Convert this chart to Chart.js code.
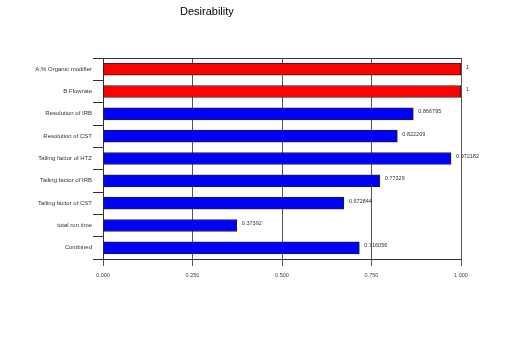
<!DOCTYPE html>
<html>
<head>
<meta charset="utf-8">
<script src="https://cdn.jsdelivr.net/npm/chart.js@4/dist/chart.umd.min.js"></script>
<style>
  html, body { margin: 0; padding: 0; background: #fff; }
  #wrap { width: 512px; height: 352px; position: relative; }
</style>
</head>
<body>
<div id="wrap"><canvas id="chart" width="512" height="352"></canvas></div>
<script>
// Desirability values per response
const categories = [
  "A:% Organic modifier",
  "B:Flowrate",
  "Resolution of IRB",
  "Resolution of CST",
  "Tailing factor of HTZ",
  "Tailing factor of IRB",
  "Tailing factor of CST",
  "total run time",
  "Combined"
]
const values = [1, 1, 0.866795, 0.822209, 0.972182, 0.77329, 0.672844, 0.37392, 0.716056]
const valueLabels = ["1", "1", "0.866795", "0.822209", "0.972182", "0.77329", "0.672844", "0.37392", "0.716056"]
const xTicks = [0, 0.25, 0.5, 0.75, 1]

const barColors = values.map((v, i) => (i < 2 ? "#ff0000" : "#0000ff"))
const font = "'Liberation Sans Narrow', 'Liberation Sans', Arial, sans-serif"

// title, frame and value labels
const extras = {
  id: "extras",
  afterDraw(chart) {
    const ctx = chart.ctx
    const area = chart.chartArea
    ctx.save()
    ctx.strokeStyle = "#333"
    ctx.lineWidth = 1
    ctx.beginPath()
    ctx.moveTo(area.left, area.top + 0.5)
    ctx.lineTo(area.right, area.top + 0.5)
    ctx.stroke()

    ctx.fillStyle = "#000"
    ctx.font = "11px " + font
    ctx.textAlign = "left"
    ctx.textBaseline = "middle"
    ctx.fillText("Desirability", 180, 12)

    const meta = chart.getDatasetMeta(0)
    ctx.font = "5.5px " + font
    ctx.fillStyle = "#333"
    meta.data.forEach((bar, i) => {
      ctx.fillText(valueLabels[i], bar.x + 5, bar.y - 2)
    })
    ctx.restore()
  }
}

new Chart(document.getElementById("chart"), {
  type: "bar",
  data: {
    labels: categories,
    datasets: [{
      data: values,
      backgroundColor: barColors,
      borderColor: "#222",
      borderWidth: 1,
      borderSkipped: false,
      barThickness: 12
    }]
  },
  options: {
    indexAxis: "y",
    responsive: false,
    animation: false,
    layout: { padding: { top: 58, right: 51, bottom: 63, left: 0 } },
    plugins: {
      legend: { display: false },
      tooltip: { enabled: false }
    },
    scales: {
      x: {
        min: 0,
        max: 1,
        afterBuildTicks: (axis) => { axis.ticks = xTicks.map((v) => ({ value: v })) },
        afterFit: (axis) => { axis.height = 30 },
        grid: { color: "#555", tickLength: 7, drawOnChartArea: true },
        border: { color: "#333" },
        ticks: {
          color: "#444",
          font: { family: font, size: 5.5 },
          padding: 6,
          maxRotation: 0,
          callback: (v) => Number(v).toFixed(3)
        }
      },
      y: {
        afterFit: (axis) => { axis.width = 103 },
        grid: { drawOnChartArea: false, tickLength: 10, color: "#333", offset: true },
        border: { color: "#333" },
        ticks: {
          color: "#333",
          font: { family: font, size: 6 },
          padding: 1
        }
      }
    }
  },
  plugins: [extras]
})
</script>
</body>
</html>
